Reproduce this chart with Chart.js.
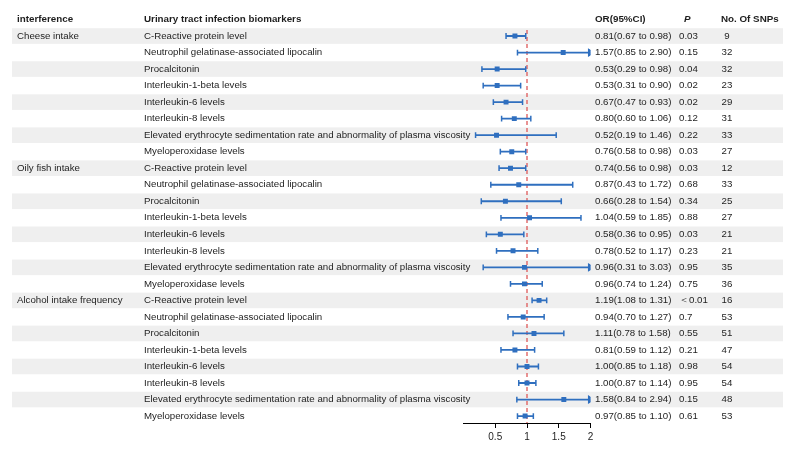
<!DOCTYPE html>
<html>
<head>
<meta charset="utf-8">
<script src="https://cdn.jsdelivr.net/npm/chart.js@4.4.1/dist/chart.umd.min.js"></script>
<style>
  body { margin: 0; background: #fff; }
  canvas { display: block; }
</style>
</head>
<body>
<canvas id="forest" width="803" height="455"></canvas>
<script>
// rows, top to bottom
const groups = ['Cheese intake', 'Oily fish intake', 'Alcohol intake frequency'];
const biomarkers = [
  'C-Reactive protein level',
  'Neutrophil gelatinase-associated lipocalin',
  'Procalcitonin',
  'Interleukin-1-beta levels',
  'Interleukin-6 levels',
  'Interleukin-8 levels',
  'Elevated erythrocyte sedimentation rate and abnormality of plasma viscosity',
  'Myeloperoxidase levels'
];

const orVals = [0.81, 1.57, 0.53, 0.53, 0.67, 0.80, 0.52, 0.76,
                0.74, 0.87, 0.66, 1.04, 0.58, 0.78, 0.96, 0.96,
                1.19, 0.94, 1.11, 0.81, 1.00, 1.00, 1.58, 0.97];
const loVals = [0.67, 0.85, 0.29, 0.31, 0.47, 0.60, 0.19, 0.58,
                0.56, 0.43, 0.28, 0.59, 0.36, 0.52, 0.31, 0.74,
                1.08, 0.70, 0.78, 0.59, 0.85, 0.87, 0.84, 0.85];
const hiVals = [0.98, 2.90, 0.98, 0.90, 0.93, 1.06, 1.46, 0.98,
                0.98, 1.72, 1.54, 1.85, 0.95, 1.17, 3.03, 1.24,
                1.31, 1.27, 1.58, 1.12, 1.18, 1.14, 2.94, 1.10];
const pVals = ['0.03', '0.15', '0.04', '0.02', '0.02', '0.12', '0.22', '0.03',
               '0.03', '0.68', '0.34', '0.88', '0.03', '0.23', '0.95', '0.75',
               '＜0.01', '0.7', '0.55', '0.21', '0.98', '0.95', '0.15', '0.61'];
const snps = [9, 32, 32, 23, 29, 31, 33, 27,
              12, 33, 25, 27, 21, 21, 35, 36,
              16, 53, 51, 47, 54, 54, 48, 53];
const xTicks = [0.5, 1, 1.5, 2];

const xMax = 2;
const nRows = orVals.length;
const blue = '#2f6fbf';
const font = '"Liberation Sans", Arial, sans-serif';

// CI segments, gaps between rows, arrow when clipped at the axis end
let ciData = [];
for (let i = 0; i < nRows; i++) {
  ciData.push({ x: loVals[i], y: i + 1 });
  ciData.push({ x: Math.min(hiVals[i], xMax), y: i + 1, arrow: hiVals[i] > xMax });
  ciData.push({ x: null, y: null });
}
const orData = orVals.map((v, i) => ({ x: v, y: i + 1 }));

const tablePlugin = {
  id: 'table',
  beforeDatasetsDraw(chart) {
    const ctx = chart.ctx;
    const y = chart.scales.y;
    ctx.save();
    ctx.fillStyle = '#efefef';
    for (let i = 1; i <= nRows; i += 2) {
      const py = y.getPixelForValue(i);
      ctx.fillRect(12, py - 7.8, 771, 15.6);
    }
    ctx.restore();
  },
  afterDraw(chart) {
    const ctx = chart.ctx;
    const y = chart.scales.y;
    ctx.save();
    ctx.fillStyle = '#1e1e1e';
    ctx.textBaseline = 'middle';

    let hy = y.getPixelForValue(0);
    ctx.font = 'bold 9.8px ' + font;
    ctx.fillText('interference', 17, hy);
    ctx.fillText('Urinary tract infection biomarkers', 144, hy);
    ctx.fillText('OR(95%CI)', 595, hy);
    ctx.fillText('No. Of SNPs', 721, hy);
    ctx.font = 'italic bold 9.8px ' + font;
    ctx.fillText('P', 684, hy);

    ctx.font = '9.7px ' + font;
    for (let i = 0; i < nRows; i++) {
      const py = y.getPixelForValue(i + 1);
      if (i % biomarkers.length === 0) {
        ctx.fillText(groups[i / biomarkers.length], 17, py);
      }
      ctx.textAlign = 'left';
      ctx.fillText(biomarkers[i % biomarkers.length], 144, py);
      ctx.fillText(orVals[i].toFixed(2) + '(' + loVals[i].toFixed(2) + ' to ' + hiVals[i].toFixed(2) + ')', 595, py);
      ctx.fillText(pVals[i], 679, py);
      ctx.textAlign = 'center';
      ctx.fillText(String(snps[i]), 727, py);
      ctx.textAlign = 'left';
    }
    ctx.restore();
  }
};

new Chart(document.getElementById('forest'), {
  type: 'line',
  data: {
    datasets: [
      {
        data: orData,
        showLine: false,
        pointStyle: 'rect',
        pointRadius: 3.5,
        pointBackgroundColor: blue,
        pointBorderColor: blue,
        pointBorderWidth: 0,
        order: 1
      },
      {
        data: ciData,
        borderColor: blue,
        borderWidth: 1.8,
        spanGaps: false,
        pointStyle: c => (c.raw && c.raw.arrow) ? 'triangle' : 'line',
        pointRotation: 90,
        pointRadius: c => (c.raw && c.raw.arrow) ? 3.6 : 2.9,
        pointBorderColor: blue,
        pointBackgroundColor: blue,
        pointBorderWidth: 1.5,
        order: 2
      },
      {
        data: [{ x: 1, y: 0.64 }, { x: 1, y: nRows + 0.42 }],
        borderColor: '#e06464',
        borderWidth: 1.4,
        borderDash: [4, 3],
        pointRadius: 0,
        order: 3
      }
    ]
  },
  options: {
    responsive: false,
    animation: false,
    devicePixelRatio: 1,
    layout: { padding: { left: 463.5, right: 212.5, top: 19.5, bottom: 0 } },
    plugins: { legend: { display: false }, tooltip: { enabled: false } },
    scales: {
      x: {
        type: 'linear',
        min: 0,
        max: xMax,
        afterBuildTicks: s => { s.ticks = xTicks.map(v => ({ value: v })); },
        afterFit: s => { s.height = 32; s.paddingLeft = 0; s.paddingRight = 0; },
        grid: { drawOnChartArea: false, drawTicks: true, tickLength: 5, color: '#000' },
        border: { display: true, color: '#000', width: 1 },
        ticks: {
          color: '#1e1e1e',
          padding: 3,
          maxRotation: 0,
          font: { family: font, size: 10 },
          callback: v => String(v)
        }
      },
      y: {
        type: 'linear',
        display: false,
        reverse: true,
        min: 0,
        max: nRows + 0.42
      }
    }
  },
  plugins: [tablePlugin]
});
</script>
</body>
</html>
